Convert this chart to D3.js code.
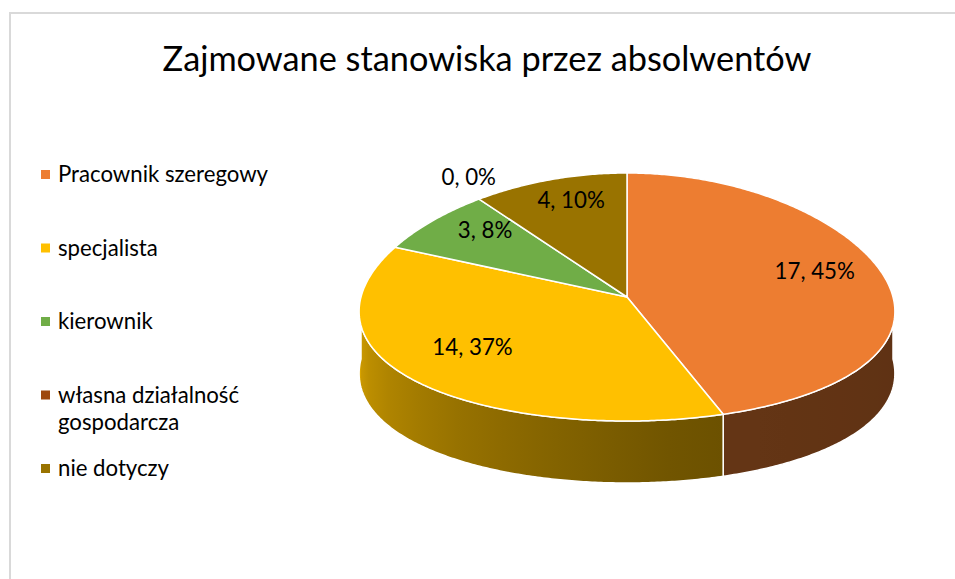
<!DOCTYPE html>
<html><head><meta charset="utf-8">
<script src="https://cdnjs.cloudflare.com/ajax/libs/d3/7.8.5/d3.min.js"></script>
<style>
html,body{margin:0;padding:0;background:#fff;}
svg{display:block;font-family:Lato,"Open Sans",sans-serif;}
</style></head>
<body>
<svg id="chart" width="955" height="579"></svg>
<script>
const title = "Zajmowane stanowiska przez absolwentów";
const categories = ["Pracownik szeregowy","specjalista","kierownik","własna działalność gospodarcza","nie dotyczy"];
const values = [17,14,3,0,4];
const colors = ["#ED7D31","#FFC000","#70AD47","#9E480E","#997300"];

const W = 955, H = 579;
const svg = d3.select("#chart");
const defs = svg.append("defs");

// frame
svg.append("rect").attr("x",10).attr("y",13).attr("width",W).attr("height",H)
  .attr("fill","#fff").attr("stroke","#D9D9D9").attr("stroke-width",2);

// title
svg.append("text").attr("x",487).attr("y",71).attr("text-anchor","middle")
  .attr("font-size",34.3).attr("fill","#000").text(title);

// pie geometry (elliptical projection with slight perspective widening of the front)
const cx = 627, cy = 297, rx = 266, ry = 124, depth = 62, persp = 0.12;
const pie = d3.pie().sort(null).value(d=>d).startAngle(0).endAngle(2*Math.PI);
const arcs = pie(values);
const total = d3.sum(values);
const px = (a,f=1) => cx + rx*f*Math.sin(a)*(1 - persp*Math.cos(a));
const py = (a,f=1) => cy - ry*f*Math.cos(a);

// percentages rounded to sum to 100 (largest remainder)
const raw = values.map(v=>v/total*100);
const pct = raw.map(Math.floor);
let rest = 100 - d3.sum(pct);
d3.range(values.length).sort((a,b)=>(raw[b]-pct[b])-(raw[a]-pct[a]))
  .forEach(i=>{ if (rest>0 && raw[i]-pct[i]>0){ pct[i]++; rest--; } });

function arcPts(a0,a1,dy){
  const n = Math.max(2, Math.ceil(Math.abs(a1-a0)/0.01));
  return d3.range(n+1).map(i=>{const a=a0+(a1-a0)*i/n; return [px(a), py(a)+dy];});
}
const line = d3.line();

// shading of side walls by angle (degrees)
const shade = d3.scaleLinear().domain([90,165,270]).range([2.6,2.4,0.45]).clamp(true);

// side walls (front half)
arcs.forEach((d,i)=>{
  const a0 = Math.max(d.startAngle, Math.PI/2), a1 = Math.min(d.endAngle, 3*Math.PI/2);
  if (a1 <= a0) return;
  const top = arcPts(a0,a1,0), bot = arcPts(a1,a0,depth);
  const gid = "g"+i;
  const x0 = px(a0), x1 = px(a1);
  const grad = defs.append("linearGradient").attr("id",gid).attr("gradientUnits","userSpaceOnUse")
    .attr("x1",x0).attr("y1",0).attr("x2",x1).attr("y2",0);
  d3.range(11).forEach(k=>{
    const a = a0+(a1-a0)*k/10;
    const x = px(a);
    const off = Math.abs(x1-x0)<1e-6 ? 0 : (x-x0)/(x1-x0);
    grad.append("stop").attr("offset",off)
      .attr("stop-color", d3.color(colors[i]).darker(shade(a*180/Math.PI)).formatHex());
  });
  svg.append("path").attr("d", line(top.concat(bot))+"Z")
    .attr("fill","url(#"+gid+")").attr("stroke","#fff").attr("stroke-width",1.5)
    .attr("stroke-linejoin","round");
});

// top faces
arcs.forEach((d,i)=>{
  if (d.endAngle - d.startAngle <= 0) return;
  const pts = [[cx,cy]].concat(arcPts(d.startAngle,d.endAngle,0));
  svg.append("path").attr("d", line(pts)+"Z")
    .attr("fill",colors[i]).attr("stroke","#fff").attr("stroke-width",1.5)
    .attr("stroke-linejoin","round");
});

// data labels
arcs.forEach((d,i)=>{
  const mid = (d.startAngle+d.endAngle)/2;
  const f = d.value === 0 ? 1.07 : 0.73;
  const lift = d.value === 0 ? 15 : 11;
  svg.append("text").attr("x",px(mid,f)).attr("y",py(mid,f) - lift).attr("dy","0.35em")
    .attr("text-anchor","middle").attr("font-size",22.3).attr("fill","#000")
    .text(d.value + ", " + pct[i] + "%");
});

// legend
const ly = d3.scalePoint().domain(categories).range([182,476]);
const maxW = 230;
categories.forEach((c,i)=>{
  const y = ly(c);
  svg.append("rect").attr("x",41).attr("y",y-12).attr("width",9).attr("height",9).attr("fill",colors[i]);
  const t = svg.append("text").attr("x",58).attr("y",y).attr("font-size",22.2).attr("fill","#000");
  const words = c.split(" ");
  let lineWords = [], lineNo = 0;
  let ts = t.append("tspan").attr("x",58).attr("y",y);
  words.forEach(w=>{
    lineWords.push(w);
    ts.text(lineWords.join(" "));
    if (ts.node().getComputedTextLength() > maxW && lineWords.length>1){
      lineWords.pop(); ts.text(lineWords.join(" "));
      lineWords=[w]; lineNo++;
      ts = t.append("tspan").attr("x",58).attr("y",y+lineNo*27).text(w);
    }
  });
});
</script>
</body></html>
